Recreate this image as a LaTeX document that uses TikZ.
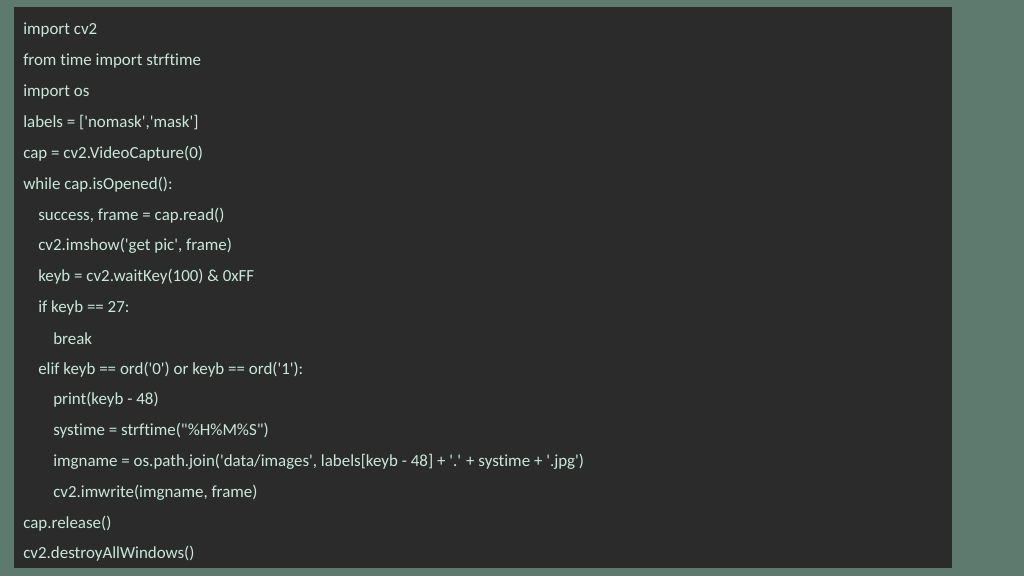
\documentclass[tikz,border=0pt]{standalone}
\usepackage{fontspec}
\newfontfamily\codefont{Carlito}[Ligatures=NoCommon]
\definecolor{slidebg}{HTML}{5E7A6F}
\definecolor{panelbg}{HTML}{2B2B2B}
\definecolor{codetext}{HTML}{C9E8DA}
\tikzset{codeline/.style={anchor=west, inner sep=0pt, text=codetext, font=\codefont\fontsize{12.7pt}{14pt}\selectfont}}
\begin{document}
\begin{tikzpicture}[x=0.75pt,y=-0.75pt]

	%Background
	\fill[slidebg] (0,0) rectangle (1024,576);

	%Panel
	\fill[panelbg] (14,7) rectangle (952,568);

	%Code
	\node[codeline] (l1) at (23,30.5) {import cv2};
	\node[codeline] (l2) at (23,61.3) {from time import strftime};
	\node[codeline] (l3) at (23,92.1) {import os};
	\node[codeline] (l4) at (23,122.9) {labels = ['nomask','mask']};
	\node[codeline] (l5) at (23,153.7) {cap = cv2.VideoCapture(0)};
	\node[codeline] (l6) at (23,184.5) {while cap.isOpened():};
	\node[codeline] (l7) at (38,215.3) {success, frame = cap.read()};
	\node[codeline] (l8) at (38,246.1) {cv2.imshow('get pic', frame)};
	\node[codeline] (l9) at (38,276.9) {keyb = cv2.waitKey(100) \& 0xFF};
	\node[codeline] (l10) at (38,307.7) {if keyb == 27:};
	\node[codeline] (l11) at (53,338.5) {break};
	\node[codeline] (l12) at (38,369.3) {elif keyb == ord('0') or keyb == ord('1'):};
	\node[codeline] (l13) at (53,400.1) {print(keyb - 48)};
	\node[codeline] (l14) at (53,430.9) {systime = strftime("\%H\%M\%S")};
	\node[codeline] (l15) at (53,461.7) {imgname = os.path.join('data/images', labels[keyb - 48] + '.' + systime + '.jpg')};
	\node[codeline] (l16) at (53,492.5) {cv2.imwrite(imgname, frame)};
	\node[codeline] (l17) at (23,523.3) {cap.release()};
	\node[codeline] (l18) at (23,554.1) {cv2.destroyAllWindows()};

\end{tikzpicture}
\end{document}
